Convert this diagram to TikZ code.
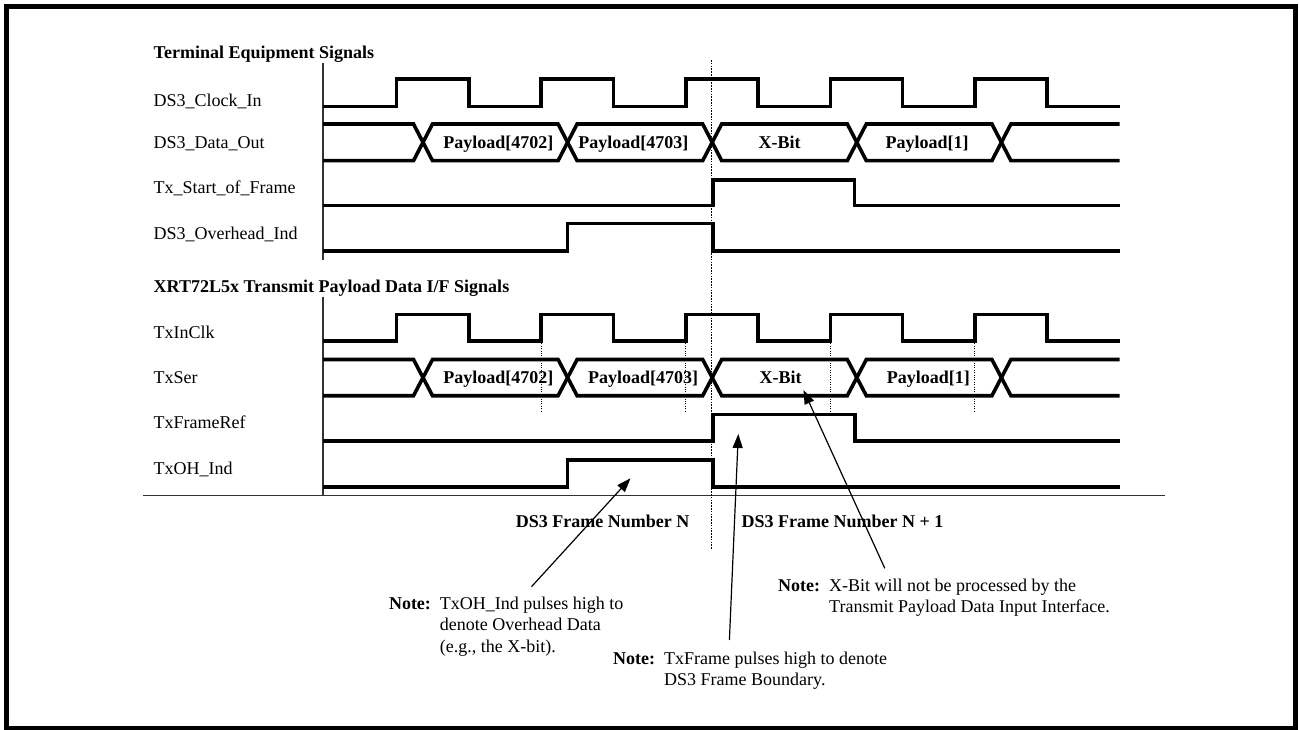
\documentclass[tikz,border=0pt]{standalone}
\usepackage{fontspec}
\setmainfont{Liberation Serif}
\usetikzlibrary{arrows.meta}

\tikzset{
  wave/.style={line width=3.6pt},
  axis/.style={line width=1.4pt, black!80},
  frameline/.style={line width=1.6pt, dash pattern=on 1.6pt off 1.2pt},
  sampleline/.style={line width=0.9pt, dash pattern=on 1pt off 1.4pt},
  sig/.style={anchor=base west, inner sep=0pt, font=\fontsize{18}{21.6}\selectfont},
  grp/.style={anchor=base west, inner sep=0pt, font=\fontsize{18}{21.6}\selectfont\bfseries},
  fld/.style={anchor=base, inner sep=0pt, font=\fontsize{18}{21.6}\selectfont\bfseries},
  note/.style={anchor=base west, inner sep=0pt, font=\fontsize{18}{21.6}\selectfont},
  pointer/.style={line width=1.2pt, -{Triangle[length=14pt,width=10pt]}},
}

\begin{document}
\begin{tikzpicture}[x=1pt,y=-1pt]
    \useasboundingbox (0,0) rectangle (1299,730);
    \draw[line width=5pt] (6.5,6.5) rectangle (1295.5,728);

    % terminal equipment side
    \node[grp] (termtitle) at (153.5,58.3) {Terminal Equipment Signals};
    \node[sig] (clkin) at (153.5,106.5) {DS3\_Clock\_In};
    \node[sig] (dataout) at (153.5,148.5) {DS3\_Data\_Out};
    \node[sig] (sof) at (153.5,194) {Tx\_Start\_of\_Frame};
    \node[sig] (ohind) at (153.5,239.3) {DS3\_Overhead\_Ind};

    \draw[axis] (323,63) -- (323,260);

    \draw[wave] (323,106.7) -| (396.5,79.3) -| (468.8,106.7) -| (541.1,79.3) -| (613.4,106.7)
                -| (685.7,79.3) -| (758,106.7) -| (830.3,79.3) -| (902.6,106.7)
                -| (974.9,79.3) -| (1047.2,106.7) -- (1119.5,106.7);
    \draw[wave] (323,124) -- (413.5,124) -- (432.5,160.7) -- (558.1,160.7) -- (577.1,124)
                -- (702.7,124) -- (721.7,160.7) -- (847.3,160.7) -- (866.3,124)
                -- (991.9,124) -- (1010.9,160.7) -- (1119.5,160.7);
    \draw[wave] (323,160.7) -- (413.5,160.7) -- (432.5,124) -- (558.1,124) -- (577.1,160.7)
                -- (702.7,160.7) -- (721.7,124) -- (847.3,124) -- (866.3,160.7)
                -- (991.9,160.7) -- (1010.9,124) -- (1119.5,124);
    \draw[wave] (323,205.7) -| (713,180) -| (854.5,205.7) -- (1119.5,205.7);
    \draw[wave] (323,251) -| (567.5,223.7) -| (713,251) -- (1119.5,251);

    \node[fld] (d4702) at (498.3,148.5) {Payload[4702]};
    \node[fld] (d4703) at (633.3,148.5) {Payload[4703]};
    \node[fld] (dxbit) at (779.7,148.5) {X-Bit};
    \node[fld] (dpay1) at (927.2,148.5) {Payload[1]};

    % XRT72L5x side
    \node[grp] (xrttitle) at (153.5,292.3) {XRT72L5x Transmit Payload Data I/F Signals};
    \node[sig] (txinclk) at (153.5,338.3) {TxInClk};
    \node[sig] (txser) at (153.5,383.3) {TxSer};
    \node[sig] (txframeref) at (153.5,428.3) {TxFrameRef};
    \node[sig] (txohind) at (153.5,474) {TxOH\_Ind};

    \draw[axis] (323,296.5) -- (323,495.5);
    \draw[axis] (143,495.5) -- (1165,495.5);

    \draw[wave] (323,341) -| (396.5,314.3) -| (468.8,341) -| (541.1,314.3) -| (613.4,341)
                -| (685.7,314.3) -| (758,341) -| (830.3,314.3) -| (902.6,341)
                -| (974.9,314.3) -| (1047.2,341) -- (1119.5,341);
    \draw[wave] (323,359.5) -- (413.5,359.5) -- (432.5,395.7) -- (558.1,395.7) -- (577.1,359.5)
                -- (702.7,359.5) -- (721.7,395.7) -- (847.3,395.7) -- (866.3,359.5)
                -- (991.9,359.5) -- (1010.9,395.7) -- (1119.5,395.7);
    \draw[wave] (323,395.7) -- (413.5,395.7) -- (432.5,359.5) -- (558.1,359.5) -- (577.1,395.7)
                -- (702.7,395.7) -- (721.7,359.5) -- (847.3,359.5) -- (866.3,395.7)
                -- (991.9,395.7) -- (1010.9,359.5) -- (1119.5,359.5);
    \draw[wave] (323,441) -| (713,414.5) -| (855,441) -- (1119.5,441);
    \draw[wave] (323,486.7) -| (567.5,460) -| (713,486.7) -- (1119.5,486.7);

    \node[fld] (s4702) at (498.3,383.5) {Payload[4702]};
    \node[fld] (s4703) at (643,383.5) {Payload[4703]};
    \node[fld] (sxbit) at (780.5,383.5) {X-Bit};
    \node[fld] (spay1) at (928.3,383.5) {Payload[1]};

    \draw[sampleline] (541.1,341) -- (541.1,412);
    \draw[sampleline] (685.7,341) -- (685.7,412);
    \draw[sampleline] (830.3,341) -- (830.3,412);
    \draw[sampleline] (974.9,341) -- (974.9,412);

    % frame boundary
    \draw[frameline] (711.5,60) -- (711.5,549);
    \node[fld, anchor=base east] (frameN) at (689.5,527) {DS3 Frame Number N};
    \node[fld, anchor=base west] (frameN1) at (741.5,527) {DS3 Frame Number N + 1};

    % notes
    \node[note] (ohnote) at (388.8,609) {\begin{tabular}[t]{@{}l@{\hspace{9pt}}l@{}}
        \textbf{Note:} & TxOH\_Ind pulses high to\\ & denote Overhead Data\\ & (e.g., the X-bit).\end{tabular}};
    \node[note] (frnote) at (613,664) {\begin{tabular}[t]{@{}l@{\hspace{9pt}}l@{}}
        \textbf{Note:} & TxFrame pulses high to denote\\ & DS3 Frame Boundary.\end{tabular}};
    \node[note] (xbnote) at (778,591) {\begin{tabular}[t]{@{}l@{\hspace{9pt}}l@{}}
        \textbf{Note:} & X-Bit will not be processed by the\\ & Transmit Payload Data Input Interface.\end{tabular}};

    \coordinate (ohtail) at (531.5,586.7);
    \coordinate (ohtip) at (630.5,478.3);
    \coordinate (frtail) at (729.4,640);
    \coordinate (frtip) at (738.3,434);
    \coordinate (xbtail) at (884.8,568.3);
    \coordinate (xbtip) at (803.5,390);

    \draw[pointer] (ohtail) -- (ohtip);
    \draw[pointer] (frtail) -- (frtip);
    \draw[pointer] (xbtail) -- (xbtip);
\end{tikzpicture}
\end{document}
